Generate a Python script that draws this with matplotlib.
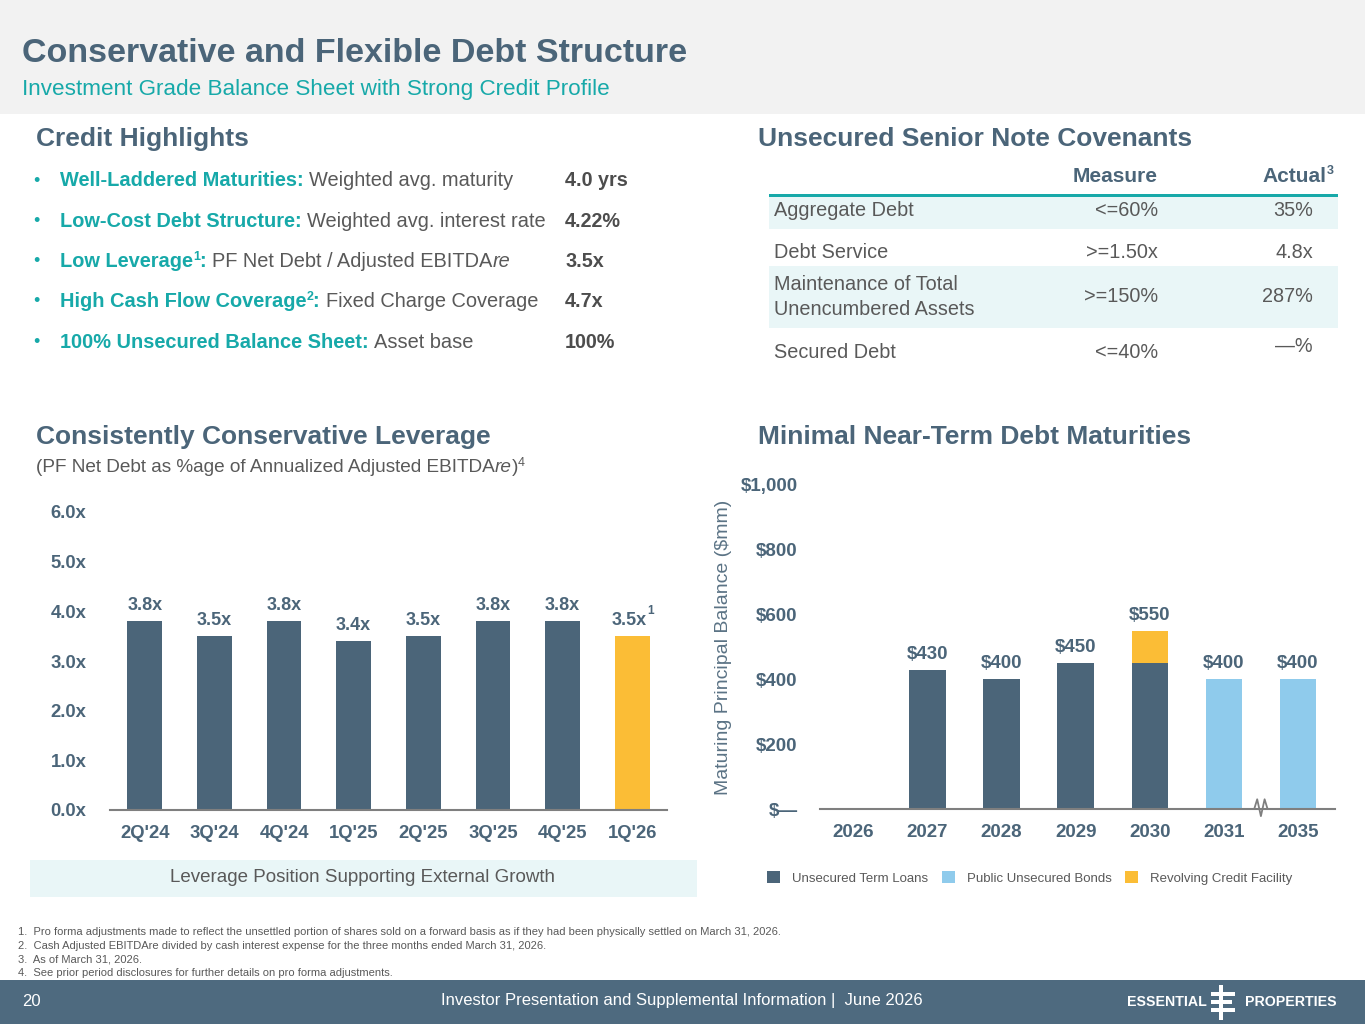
import matplotlib
matplotlib.use("Agg")
import matplotlib.pyplot as plt
from matplotlib.patches import Rectangle

plt.rcParams['font.family'] = ['Liberation Sans', 'DejaVu Sans']

W, H = 1365, 1024
SLATE = '#4b6579'
TEAL = '#17a9a9'
GRAY = '#595959'
YELLOW = '#fbbd36'
LBLUE = '#8fcbec'
BAND = '#e9f6f7'

# --- data ---
highlight_labels = ['Well-Laddered Maturities', 'Low-Cost Debt Structure', 'Low Leverage',
                    'High Cash Flow Coverage', '100% Unsecured Balance Sheet']
highlight_sups = ['', '', '1', '2', '']
highlight_desc = ['Weighted avg. maturity', 'Weighted avg. interest rate',
                  'PF Net Debt / Adjusted EBITDA', 'Fixed Charge Coverage', 'Asset base']
highlight_vals = ['4.0 yrs', '4.22%', '3.5x', '4.7x', '100%']

cov_names = ['Aggregate Debt', 'Debt Service', 'Maintenance of Total\nUnencumbered Assets', 'Secured Debt']
cov_measure = ['<=60%', '>=1.50x', '>=150%', '<=40%']
cov_actual = ['35%', '4.8x', '287%', '\u2014%']

quarters = ["2Q'24", "3Q'24", "4Q'24", "1Q'25", "2Q'25", "3Q'25", "4Q'25", "1Q'26"]
leverage = [3.8, 3.5, 3.8, 3.4, 3.5, 3.8, 3.8, 3.5]

years = ['2026', '2027', '2028', '2029', '2030', '2031', '2035']
term_loans = [0, 430, 400, 450, 450, 0, 0]
bonds = [0, 0, 0, 0, 0, 400, 400]
revolver = [0, 0, 0, 0, 100, 0, 0]

footnotes = [
    '1.  Pro forma adjustments made to reflect the unsettled portion of shares sold on a forward basis as if they had been physically settled on March 31, 2026.',
    '2.  Cash Adjusted EBITDAre divided by cash interest expense for the three months ended March 31, 2026.',
    '3.  As of March 31, 2026.',
    '4.  See prior period disclosures for further details on pro forma adjustments.',
]


def fx(x):
    return x / W


def fy(y):
    return 1 - y / H


fig = plt.figure(figsize=(13.65, 10.24), dpi=100)
r = fig.canvas.get_renderer()


def txt(x, y, s, **kw):
    kw.setdefault('va', 'center')
    return fig.text(fx(x), fy(y), s, **kw)


def rich(x, y, parts):
    # parts: (text, size, color, weight, style, raise_px)
    for s, size, color, weight, style, up in parts:
        t = txt(x, y - up, s, fontsize=size, color=color, fontweight=weight, fontstyle=style,
                ha='left')
        x += t.get_window_extent(renderer=r).width
    return x


def rect(x0, y0, x1, y1, color, z=0):
    fig.patches.append(Rectangle((fx(x0), fy(y1)), fx(x1 - x0), (y1 - y0) / H,
                                 transform=fig.transFigure, color=color, zorder=z, lw=0))


# header / footer bands
rect(0, 0, W, 114, '#f2f2f2')
rect(0, 980, W, H, '#4e6a7f')
txt(22, 53, 'Conservative and Flexible Debt Structure', fontsize=24.5, fontweight='bold', color=SLATE)
txt(22, 89, 'Investment Grade Balance Sheet with Strong Credit Profile', fontsize=16.2, color=TEAL)

# section titles
for x, y, s in [(36, 139, 'Credit Highlights'), (758, 139, 'Unsecured Senior Note Covenants'),
                (36, 437, 'Consistently Conservative Leverage'), (758, 437, 'Minimal Near-Term Debt Maturities')]:
    txt(x, y, s, fontsize=19, fontweight='bold', color=SLATE)

# credit highlights
FS = 14.4
for i in range(len(highlight_labels)):
    y = 181 + i * 40.3
    txt(33, y, '\u2022', fontsize=13, color=TEAL)
    parts = [(highlight_labels[i], FS, TEAL, 'bold', 'normal', 0)]
    if highlight_sups[i]:
        parts.append((highlight_sups[i], 9, TEAL, 'bold', 'normal', 5))
    parts.append((': ', FS, TEAL, 'bold', 'normal', 0))
    parts.append((highlight_desc[i], FS, GRAY, 'normal', 'normal', 0))
    if i == 2:
        parts.append(('re', FS, GRAY, 'normal', 'italic', 0))
    rich(60, y, parts)
    txt(565, y, highlight_vals[i], fontsize=14.2, fontweight='bold', color='#4d4d4d')

# covenants table
txt(1158, 177, 'Measure', fontsize=15, fontweight='bold', color=SLATE, ha='right')
txt(1326, 177, 'Actual', fontsize=15, fontweight='bold', color=SLATE, ha='right')
txt(1327, 171, '3', fontsize=9, fontweight='bold', color=SLATE, ha='left')
rect(769, 194, 1338, 197, TEAL, 2)
row_bounds = [(197, 229), (229, 266), (266, 328), (328, 375)]
row_y = [211, 252, 297, 353]
for i, (a, b) in enumerate(row_bounds):
    if i % 2 == 0:
        rect(769, a, 1338, b, BAND)
    yc = row_y[i]
    txt(774, yc, cov_names[i], fontsize=14.3, color=GRAY, ha='left', linespacing=1.45)
    txt(1158, yc, cov_measure[i], fontsize=14.3, color=GRAY, ha='right')
    txt(1313, yc - (7 if i == 3 else 0), cov_actual[i], fontsize=14.3, color=GRAY, ha='right')

# leverage subtitle
rich(36, 468, [('(PF Net Debt as %age of Annualized Adjusted EBITDA', 13.7, GRAY, 'normal', 'normal', 0),
               ('re', 13.7, GRAY, 'normal', 'italic', 0),
               (')', 13.7, GRAY, 'normal', 'normal', 0),
               ('4', 9, GRAY, 'normal', 'normal', 5)])

# --- leverage chart ---
ax1 = fig.add_axes([fx(110), fy(810), fx(667 - 110), (810 - 512) / H])
colors1 = [SLATE] * (len(quarters) - 1) + [YELLOW]
ax1.bar(range(len(quarters)), leverage, width=0.5, color=colors1, zorder=2)
ax1.set_xlim(-0.5, len(quarters) - 0.5)
ax1.set_ylim(0, 6)
ax1.set_yticks(range(7))
ax1.set_yticklabels([f'{v:.1f}x' for v in range(7)])
ax1.set_xticks(range(len(quarters)))
ax1.set_xticklabels(quarters)
for i, v in enumerate(leverage):
    dx = -2 if i == len(quarters) - 1 else 0
    ax1.annotate(f'{v:.1f}x', (i, v), xytext=(dx, 5), textcoords='offset points', ha='center',
                 va='bottom', fontsize=13, fontweight='bold', color=SLATE)
ax1.annotate('1', (len(quarters) - 1, leverage[-1]), xytext=(10.5, 14), textcoords='offset points',
             ha='left', va='bottom', fontsize=8.5, fontweight='bold', color=SLATE)

for sp in ['top', 'right', 'left']:
    ax1.spines[sp].set_visible(False)
ax1.spines['bottom'].set_color('#7f7f7f')
ax1.spines['bottom'].set_linewidth(1.5)
ax1.tick_params(length=0)
ax1.tick_params(axis='y', pad=17)
ax1.tick_params(axis='x', pad=11)
for lab in ax1.get_xticklabels() + ax1.get_yticklabels():
    lab.set_fontsize(13.3)
    lab.set_fontweight('bold')
    lab.set_color(SLATE)

rect(30, 860, 697, 897, BAND)
txt(363, 878, 'Leverage Position Supporting External Growth', fontsize=13.5, color=GRAY, ha='center')

# --- maturities chart ---
ax2 = fig.add_axes([fx(820), fy(809), fx(1335 - 820), (809 - 485) / H])
x2 = range(len(years))
ax2.bar(x2, term_loans, width=0.49, color=SLATE, label='Unsecured Term Loans', zorder=2)
ax2.bar(x2, bonds, width=0.49, bottom=term_loans, color=LBLUE, label='Public Unsecured Bonds', zorder=2)
base2 = [a + b for a, b in zip(term_loans, bonds)]
ax2.bar(x2, revolver, width=0.49, bottom=base2, color=YELLOW, label='Revolving Credit Facility', zorder=2)
ax2.set_xlim(-0.45, len(years) - 0.5)
ax2.set_ylim(0, 1000)
ax2.set_yticks(range(0, 1001, 200))
ax2.set_yticklabels(['$\u2014', '$200', '$400', '$600', '$800', '$1,000'])
ax2.set_xticks(list(x2))
ax2.set_xticklabels(years)
for i in x2:
    tot = term_loans[i] + bonds[i] + revolver[i]
    if tot:
        ax2.annotate(f'${tot}', (i, tot), xytext=(0, 5), textcoords='offset points', ha='center',
                     va='bottom', fontsize=13.5, fontweight='bold', color=SLATE)
# axis break between 2031 and 2035
zx = [5.33, 5.41, 5.45, 5.5, 5.55, 5.59, 5.67]
zy = [0, 0, 30, -22, 30, 0, 0]
ax2.plot(zx, zy, color='#7f7f7f', lw=1.3, clip_on=False, zorder=3)
ax2.set_ylabel('Maturing Principal Balance ($mm)', fontsize=14, color='#5b7385')
for sp in ['top', 'right', 'left']:
    ax2.spines[sp].set_visible(False)
ax2.spines['bottom'].set_color('#7f7f7f')
ax2.spines['bottom'].set_linewidth(1.5)
ax2.tick_params(length=0)
ax2.tick_params(axis='y', pad=16)
ax2.tick_params(axis='x', pad=11)
for lab in ax2.get_xticklabels() + ax2.get_yticklabels():
    lab.set_fontsize(13.5)
    lab.set_fontweight('bold')
    lab.set_color(SLATE)
ax2.yaxis.set_label_coords(-0.17, 0.5)

leg = ax2.legend(loc='upper left', bbox_to_anchor=(fx(762), fy(866)), bbox_transform=fig.transFigure,
                 ncol=3, frameon=False, fontsize=9.5, handlelength=1.0, handleheight=1.0,
                 columnspacing=1.0, handletextpad=0.9, borderaxespad=0)
for t in leg.get_texts():
    t.set_color(GRAY)

# footnotes
for i, s in enumerate(footnotes):
    txt(18, 932 + i * 13.7, s, fontsize=8, color=GRAY)

# footer
txt(22, 1001, '20', fontsize=12, color='white')
txt(682, 1001, 'Investor Presentation and Supplemental Information |  June 2026', fontsize=12,
    color='white', ha='center')
txt(1127, 1002, 'ESSENTIAL', fontsize=10.2, fontweight='bold', color='white')
txt(1245, 1002, 'PROPERTIES', fontsize=10.2, fontweight='bold', color='white')
rect(1219, 985, 1223, 1020, 'white', 3)
rect(1211, 992, 1219, 996, 'white', 3)
rect(1223, 992, 1235, 996, 'white', 3)
rect(1211, 1000, 1232, 1004, 'white', 3)
rect(1211, 1008, 1219, 1012, 'white', 3)
rect(1223, 1008, 1235, 1012, 'white', 3)

fig.savefig('out.png', dpi=100, facecolor='white')
